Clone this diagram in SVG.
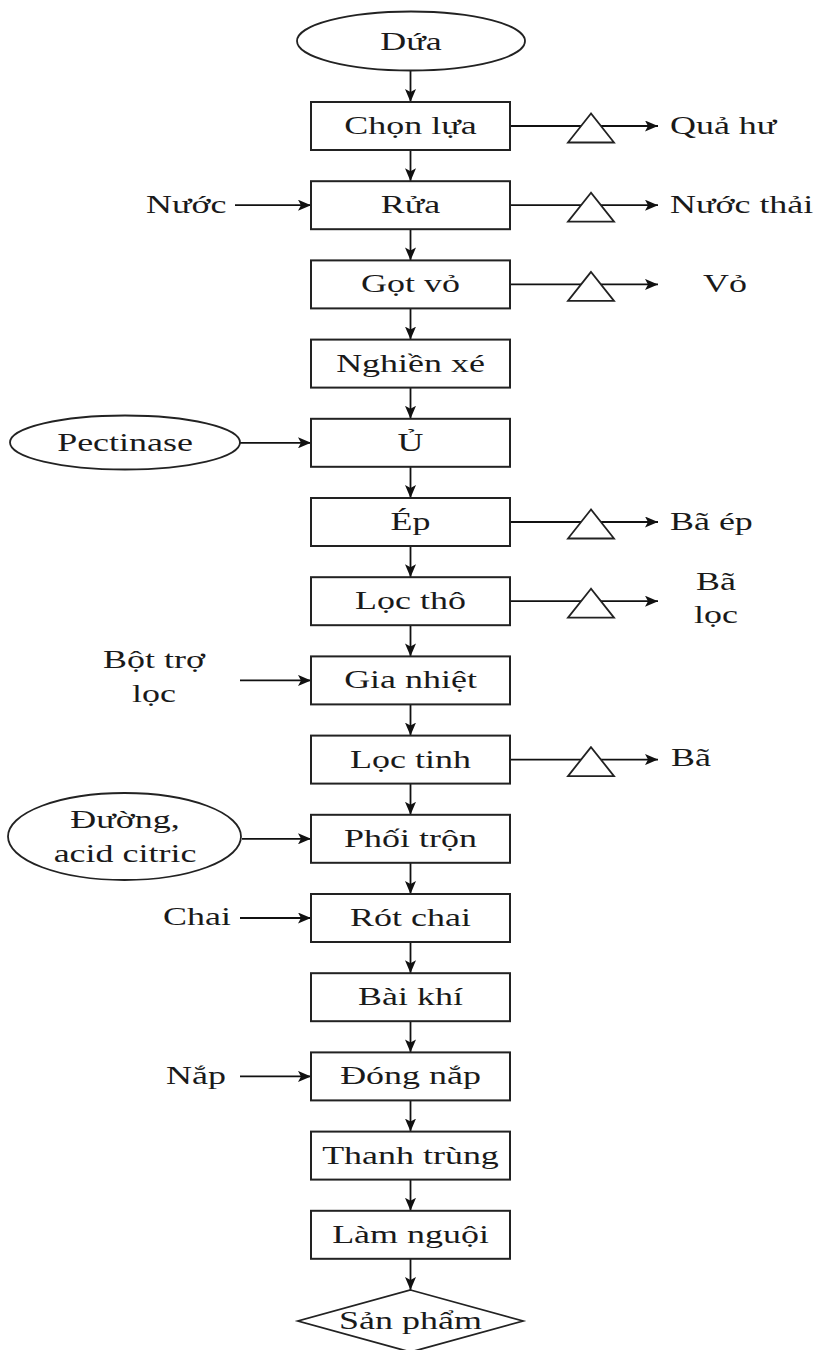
<svg xmlns="http://www.w3.org/2000/svg" width="814" height="1350" viewBox="0 0 814 1350">
  <defs>
    <marker id="arrow" markerUnits="userSpaceOnUse" markerWidth="13" markerHeight="11" refX="13" refY="5.5" orient="auto">
      <path d="M0,0 L13,5.5 L0,11 L3,5.5 z" fill="#111"/>
    </marker>
    <style>
      .box { fill: #fff; stroke: #222; stroke-width: 2; }
      .shape { fill: #fff; stroke: #222; stroke-width: 1.8; }
      .tri { fill: #fff; stroke: #222; stroke-width: 1.8; stroke-linejoin: miter; }
      .flow { fill: none; stroke: #111; stroke-width: 1.8; marker-end: url(#arrow); }
      .line { fill: none; stroke: #111; stroke-width: 1.8; }
      text { font-family: "Liberation Serif", "Times New Roman", serif; font-size: 25.5px; fill: #1a1a1a; }
      .c { text-anchor: middle; }
      .s { text-anchor: start; }
    </style>
  </defs>
  <rect width="814" height="1350" fill="#fff"/>

  <!-- connectors -->
  <g id="connectors">
    <!-- main vertical flow -->
    <line class="flow" x1="410.5" y1="70.5" x2="410.5" y2="102"/>
    <line class="flow" x1="410.5" y1="150" x2="410.5" y2="181.2"/>
    <line class="flow" x1="410.5" y1="229.2" x2="410.5" y2="260.4"/>
    <line class="flow" x1="410.5" y1="308.4" x2="410.5" y2="339.6"/>
    <line class="flow" x1="410.5" y1="387.6" x2="410.5" y2="418.8"/>
    <line class="flow" x1="410.5" y1="466.8" x2="410.5" y2="498"/>
    <line class="flow" x1="410.5" y1="546" x2="410.5" y2="577.2"/>
    <line class="flow" x1="410.5" y1="625.2" x2="410.5" y2="656.4"/>
    <line class="flow" x1="410.5" y1="704.4" x2="410.5" y2="735.6"/>
    <line class="flow" x1="410.5" y1="783.6" x2="410.5" y2="814.8"/>
    <line class="flow" x1="410.5" y1="862.8" x2="410.5" y2="894"/>
    <line class="flow" x1="410.5" y1="942" x2="410.5" y2="973.2"/>
    <line class="flow" x1="410.5" y1="1021.2" x2="410.5" y2="1052.4"/>
    <line class="flow" x1="410.5" y1="1100.4" x2="410.5" y2="1131.6"/>
    <line class="flow" x1="410.5" y1="1179.6" x2="410.5" y2="1210.8"/>
    <line class="flow" x1="410.5" y1="1258.8" x2="410.5" y2="1290"/>

    <!-- inputs from the left -->
    <line class="flow" x1="235" y1="205.2" x2="311" y2="205.2"/>
    <line class="flow" x1="240" y1="442.8" x2="311" y2="442.8"/>
    <line class="flow" x1="240" y1="680.4" x2="311" y2="680.4"/>
    <line class="flow" x1="242" y1="838.8" x2="311" y2="838.8"/>
    <line class="flow" x1="240" y1="918" x2="311" y2="918"/>
    <line class="flow" x1="240" y1="1076.4" x2="311" y2="1076.4"/>

    <!-- waste outputs to the right -->
    <line class="flow" x1="510" y1="126" x2="658" y2="126"/>
    <line class="flow" x1="510" y1="205.2" x2="658" y2="205.2"/>
    <line class="flow" x1="510" y1="284.4" x2="658" y2="284.4"/>
    <line class="flow" x1="510" y1="522" x2="658" y2="522"/>
    <line class="flow" x1="510" y1="601.2" x2="658" y2="601.2"/>
    <line class="flow" x1="510" y1="759.6" x2="658" y2="759.6"/>

    <!-- waste triangles on the output lines -->
    <polygon class="tri" points="591,113.5 568,142.5 614,142.5"/>
    <polygon class="tri" points="591,192.7 568,221.7 614,221.7"/>
    <polygon class="tri" points="591,271.9 568,300.9 614,300.9"/>
    <polygon class="tri" points="591,509.5 568,538.5 614,538.5"/>
    <polygon class="tri" points="591,588.7 568,617.7 614,617.7"/>
    <polygon class="tri" points="591,747.1 568,776.1 614,776.1"/>
  </g>

  <!-- start node -->
  <g id="n-dua">
    <ellipse class="shape" cx="411" cy="41" rx="114" ry="29.5"/>
    <text class="c" transform="translate(411,50) scale(1.41,1)">Dứa</text>
  </g>

  <!-- process steps -->
  <g id="n-chon-lua">
    <rect class="box" x="311" y="102" width="199" height="48"/>
    <text class="c" transform="translate(410.5,134) scale(1.41,1)">Chọn lựa</text>
  </g>
  <g id="n-rua">
    <rect class="box" x="311" y="181.2" width="199" height="48"/>
    <text class="c" transform="translate(410.5,213.2) scale(1.41,1)">Rửa</text>
  </g>
  <g id="n-got-vo">
    <rect class="box" x="311" y="260.4" width="199" height="48"/>
    <text class="c" transform="translate(410.5,292.4) scale(1.41,1)">Gọt vỏ</text>
  </g>
  <g id="n-nghien-xe">
    <rect class="box" x="311" y="339.6" width="199" height="48"/>
    <text class="c" transform="translate(410.5,371.6) scale(1.41,1)">Nghiền xé</text>
  </g>
  <g id="n-u">
    <rect class="box" x="311" y="418.8" width="199" height="48"/>
    <text class="c" transform="translate(410.5,450.8) scale(1.41,1)">Ủ</text>
  </g>
  <g id="n-ep">
    <rect class="box" x="311" y="498" width="199" height="48"/>
    <text class="c" transform="translate(410.5,530) scale(1.41,1)">Ép</text>
  </g>
  <g id="n-loc-tho">
    <rect class="box" x="311" y="577.2" width="199" height="48"/>
    <text class="c" transform="translate(410.5,609.2) scale(1.41,1)">Lọc thô</text>
  </g>
  <g id="n-gia-nhiet">
    <rect class="box" x="311" y="656.4" width="199" height="48"/>
    <text class="c" transform="translate(410.5,688.4) scale(1.41,1)">Gia nhiệt</text>
  </g>
  <g id="n-loc-tinh">
    <rect class="box" x="311" y="735.6" width="199" height="48"/>
    <text class="c" transform="translate(410.5,767.6) scale(1.41,1)">Lọc tinh</text>
  </g>
  <g id="n-phoi-tron">
    <rect class="box" x="311" y="814.8" width="199" height="48"/>
    <text class="c" transform="translate(410.5,846.8) scale(1.41,1)">Phối trộn</text>
  </g>
  <g id="n-rot-chai">
    <rect class="box" x="311" y="894" width="199" height="48"/>
    <text class="c" transform="translate(410.5,926) scale(1.41,1)">Rót chai</text>
  </g>
  <g id="n-bai-khi">
    <rect class="box" x="311" y="973.2" width="199" height="48"/>
    <text class="c" transform="translate(410.5,1005.2) scale(1.41,1)">Bài khí</text>
  </g>
  <g id="n-dong-nap">
    <rect class="box" x="311" y="1052.4" width="199" height="48"/>
    <text class="c" transform="translate(410.5,1084.4) scale(1.41,1)">Đóng nắp</text>
  </g>
  <g id="n-thanh-trung">
    <rect class="box" x="311" y="1131.6" width="199" height="48"/>
    <text class="c" transform="translate(410.5,1163.6) scale(1.41,1)">Thanh trùng</text>
  </g>
  <g id="n-lam-nguoi">
    <rect class="box" x="311" y="1210.8" width="199" height="48"/>
    <text class="c" transform="translate(410.5,1242.8) scale(1.41,1)">Làm nguội</text>
  </g>

  <!-- end node -->
  <g id="n-san-pham">
    <polygon class="shape" points="410.5,1290 523,1321 410.5,1352 298,1321"/>
    <text class="c" transform="translate(410.5,1329) scale(1.41,1)">Sản phẩm</text>
  </g>

  <!-- inputs -->
  <g id="in-nuoc">
    <text class="s" transform="translate(146,213) scale(1.41,1)">Nước</text>
  </g>
  <g id="in-pectinase">
    <ellipse class="shape" cx="125" cy="442.5" rx="115" ry="27"/>
    <text class="c" transform="translate(125,450.5) scale(1.41,1)">Pectinase</text>
  </g>
  <g id="in-bot-tro-loc">
    <text class="c" transform="translate(154,668) scale(1.41,1)">Bột trợ</text>
    <text class="c" transform="translate(154,702) scale(1.41,1)">lọc</text>
  </g>
  <g id="in-duong">
    <ellipse class="shape" cx="124.5" cy="836.5" rx="116.5" ry="43.5"/>
    <text class="c" transform="translate(125,828) scale(1.41,1)">Đường,</text>
    <text class="c" transform="translate(125,862) scale(1.41,1)">acid citric</text>
  </g>
  <g id="in-chai">
    <text class="s" transform="translate(163,925) scale(1.41,1)">Chai</text>
  </g>
  <g id="in-nap">
    <text class="s" transform="translate(166,1084) scale(1.41,1)">Nắp</text>
  </g>

  <!-- outputs -->
  <g id="out-qua-hu">
    <text class="s" transform="translate(670,134) scale(1.41,1)">Quả hư</text>
  </g>
  <g id="out-nuoc-thai">
    <text class="s" transform="translate(670,213) scale(1.41,1)">Nước thải</text>
  </g>
  <g id="out-vo">
    <text class="s" transform="translate(703,292) scale(1.41,1)">Vỏ</text>
  </g>
  <g id="out-ba-ep">
    <text class="s" transform="translate(670,530) scale(1.41,1)">Bã ép</text>
  </g>
  <g id="out-ba-loc">
    <text class="c" transform="translate(716,590) scale(1.41,1)">Bã</text>
    <text class="c" transform="translate(716,623) scale(1.41,1)">lọc</text>
  </g>
  <g id="out-ba">
    <text class="s" transform="translate(671,766) scale(1.41,1)">Bã</text>
  </g>
</svg>
